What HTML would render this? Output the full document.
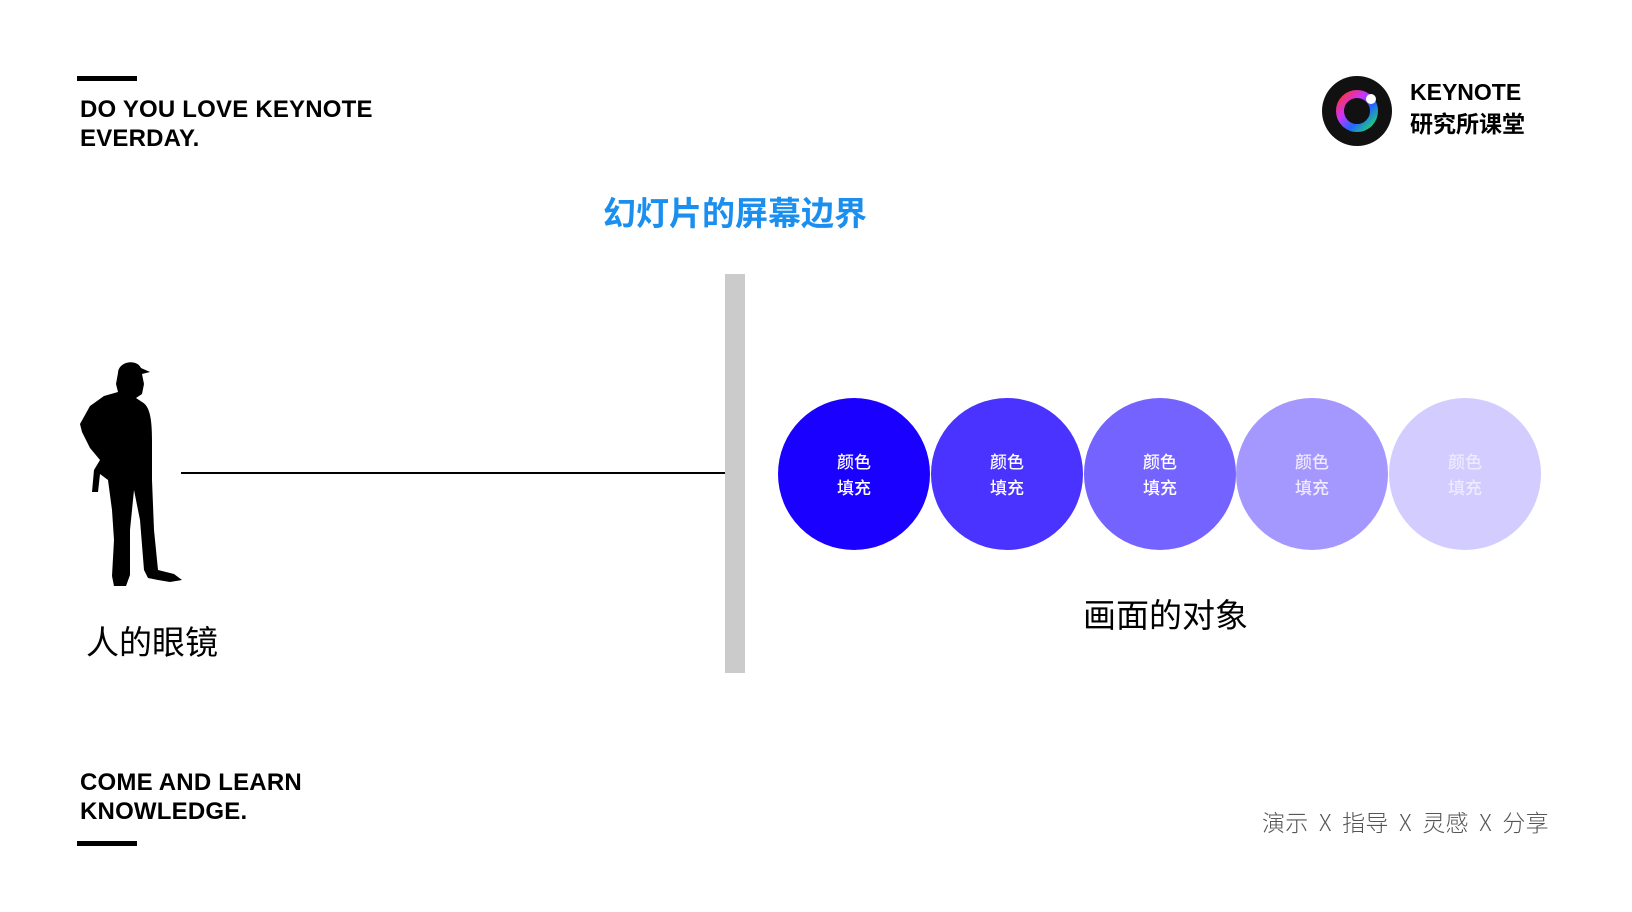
<!DOCTYPE html>
<html><head><meta charset="utf-8"><style>
body{margin:0;width:1632px;height:912px;background:#fff;position:relative;overflow:hidden;font-family:"Liberation Sans","Noto Sans CJK SC",sans-serif}
.a{position:absolute;white-space:nowrap}
.b{font-weight:bold;font-size:24px;line-height:29px;color:#000;letter-spacing:0.2px}
.bar{position:absolute;background:#000;width:60px;height:5px;left:77px}
.c{position:absolute;width:152px;height:152px;border-radius:50%;top:398px;display:flex;align-items:center;justify-content:center;text-align:center;color:#fff;font-size:17px;line-height:26px;font-family:"Noto Sans CJK SC",sans-serif;font-weight:500}
</style></head><body>
<div class="bar" style="top:76px"></div>
<div class="a b" style="left:80px;top:95px">DO YOU LOVE KEYNOTE<br>EVERDAY.</div>
<div class="a b" style="left:80px;top:768px">COME AND LEARN<br>KNOWLEDGE.</div>
<div class="bar" style="top:841px"></div>
<svg class="a" style="left:1321px;top:75px" width="72" height="72" viewBox="0 0 72 72">
<defs><linearGradient id="g" x1="0" y1="0" x2="1" y2="1"><stop offset="0" stop-color="#f33"/><stop offset=".35" stop-color="#c3f"/><stop offset=".65" stop-color="#26f"/><stop offset="1" stop-color="#2d6"/></linearGradient></defs>
<circle cx="36" cy="36" r="35" fill="#111"/><circle cx="36" cy="36" r="17" fill="none" stroke="url(#g)" stroke-width="8"/><circle cx="50" cy="24" r="5" fill="#fff"/></svg>
<div class="a" style="left:1410px;top:78px;font-weight:bold;font-size:23px;line-height:28px">KEYNOTE</div>
<div class="a" style="left:1410px;top:107px;font-weight:bold;font-size:23px;line-height:30px;font-family:'Noto Sans CJK SC',sans-serif">研究所课堂</div>
<div class="a" style="left:603px;top:189px;font-size:33px;line-height:44px;color:#1a8ff0;font-weight:bold;font-family:'Noto Sans CJK SC',sans-serif">幻灯片的屏幕边界</div>
<div class="a" style="left:725px;top:274px;width:20px;height:399px;background:#cbcbcb"></div>
<div class="a" style="left:181px;top:472px;width:544px;height:2px;background:#000"></div>
<svg class="a" style="left:78px;top:360px" width="106" height="230" viewBox="0 0 106 230">
<path fill="#000" d="M40 13 C40 2 58 -2 63 8 L72 12 L64 14 L66 24 L64 34 L58 38 L64 42 C72 46 74 60 74 80 L74 120 L76 170 L80 210 L96 214 L104 220 L92 222 L80 220 L70 218 L66 210 L62 160 L56 130 L52 170 L52 215 L48 226 L36 226 L34 216 L36 180 L34 150 L30 120 L22 114 L20 132 L14 132 L16 110 L22 100 L12 88 L4 72 L2 64 L12 46 L26 36 L40 32 L38 24 Z"/></svg>
<div class="a" style="left:86px;top:618px;font-size:33px;line-height:44px;font-family:'Noto Sans CJK SC',sans-serif">人的眼镜</div>
<div class="c" style="left:778px;background:#1a00ff">颜色<br>填充</div>
<div class="c" style="left:931px;background:#4a33ff">颜色<br>填充</div>
<div class="c" style="left:1084px;background:#7563ff">颜色<br>填充</div>
<div class="c" style="left:1236px;background:#a498ff;color:#eeeaff">颜色<br>填充</div>
<div class="c" style="left:1389px;background:#d2ccff;color:#eeeaff">颜色<br>填充</div>
<div class="a" style="left:1083px;top:591px;font-size:33px;line-height:44px;font-family:'Noto Sans CJK SC',sans-serif">画面的对象</div>
<div class="a" style="left:1262px;top:805px;font-size:23px;line-height:32px;color:#555;font-family:'Noto Sans CJK SC',sans-serif;font-weight:300;word-spacing:5px;letter-spacing:0.3px">演示 X 指导 X 灵感 X 分享</div>
</body></html>
